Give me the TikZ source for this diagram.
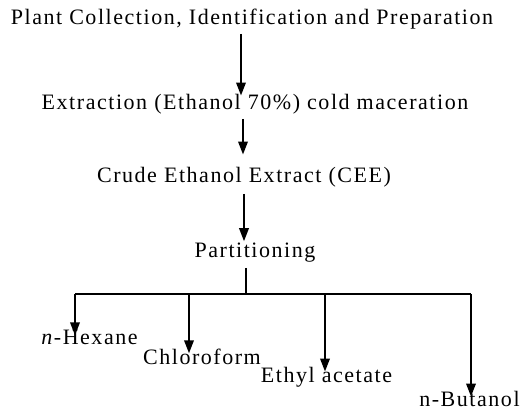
\documentclass[tikz,border=0pt]{standalone}
\usepackage{fontspec}
\setmainfont{Liberation Serif}[LetterSpace=7]
\usetikzlibrary{arrows.meta}
\begin{document}
\begin{tikzpicture}[x=1pt,y=-1pt,
  lbl/.style={inner sep=0pt,anchor=base,font=\fontsize{22}{25}\selectfont},
  arr/.style={line width=1.9pt,-{Triangle[length=13pt,width=9.5pt]}},
  ln/.style={line width=1.4pt}]
\useasboundingbox (0,0) rectangle (523,414);
\node[lbl] (t1) at (252,25) {Plant Collection, Identification and Preparation};
\node[lbl] (t2) at (255,110) {Extraction (Ethanol 70\%) cold maceration};
\node[lbl] (t3) at (244,183) {Crude Ethanol Extract (CEE)};
\node[lbl] (t4) at (255,258) {Partitioning};
\node[lbl] (l1) at (89.5,345) {\textit{n}-Hexane};
\node[lbl] (l2) at (202,365) {Chloroform};
\node[lbl] (l3) at (326.5,383) {Ethyl acetate};
\node[lbl] (l4) at (469.5,407) {n-Butanol};
\coordinate (hub) at (246,294);
\coordinate (h1) at (75,294);
\coordinate (h2) at (189,294);
\coordinate (h3) at (325,294);
\coordinate (h4) at (471,294);
\draw[arr] ([xshift=-11,yshift=-4]t1.south) -- ([xshift=-14,yshift=-1]t2.north);
\draw[arr] ([xshift=-12,yshift=-4]t2.south) -- ([xshift=-1,yshift=13]t3.north);
\draw[arr] ([xshift=0,yshift=-6]t3.south) -- ([xshift=-11,yshift=2]t4.north);
\draw[ln] ([xshift=-9,yshift=-5]t4.south) -- (hub);
\draw[ln] (h1) -- (h4);
\draw[arr] (h1) -- ([yshift=-5]h1 |- l1.north);
\draw[arr] (h2) -- ([yshift=-4]h2 |- l2.north);
\draw[arr] (h3) -- ([yshift=-4]h3 |- l3.north);
\draw[arr] (h4) -- ([yshift=-5]h4 |- l4.north);
\end{tikzpicture}
\end{document}
